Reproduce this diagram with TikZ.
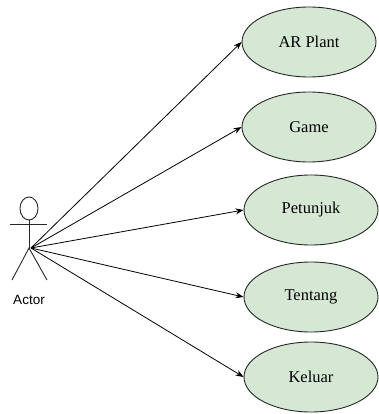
\documentclass[tikz,border=0pt]{standalone}
\usepackage{fontspec}
\setmainfont{Liberation Serif}
\newfontfamily\labelfont{Liberation Sans}
\usetikzlibrary{shapes.geometric,arrows.meta}
\definecolor{ucfill}{RGB}{213,232,212}
\begin{document}
\begin{tikzpicture}[x=1pt,y=-1pt,
  usecase/.style={ellipse,draw=black!85,line width=0.9pt,fill=ucfill,
    minimum width=134pt,minimum height=70pt,inner sep=0pt,
    font=\fontsize{16.5}{18}\selectfont},
  assoc/.style={line width=0.8pt,-{Stealth[length=8pt,width=6pt]}},
  figure/.style={line width=0.9pt,draw=black!85}]
  \useasboundingbox (0,0) rectangle (378,414);

  % use cases
  \node[usecase] (ar)  at (309,42)  {AR Plant};
  \node[usecase] (gm)  at (309,127) {Game};
  \node[usecase] (pt)  at (311,210) {Petunjuk};
  \node[usecase] (tt)  at (311,297) {Tentang};
  \node[usecase] (kl)  at (311,377) {Keluar};

  % stick figure actor
  \draw[figure] (29,208.5) ellipse (9 and 11.5);
  \draw[figure] (10,224) -- (47,224);
  \draw[figure] (29,220) -- (29,248);
  \draw[figure] (12,280) -- (29,248) -- (47,280);
  \coordinate (hip) at (31,248);
  \node[font=\labelfont\fontsize{13.5}{15}\selectfont] (lbl) at (29,300) {Actor};

  % associations
  \foreach \u in {ar,gm,pt,tt,kl}
    \draw[assoc] (hip) -- (\u.west);
\end{tikzpicture}
\end{document}
